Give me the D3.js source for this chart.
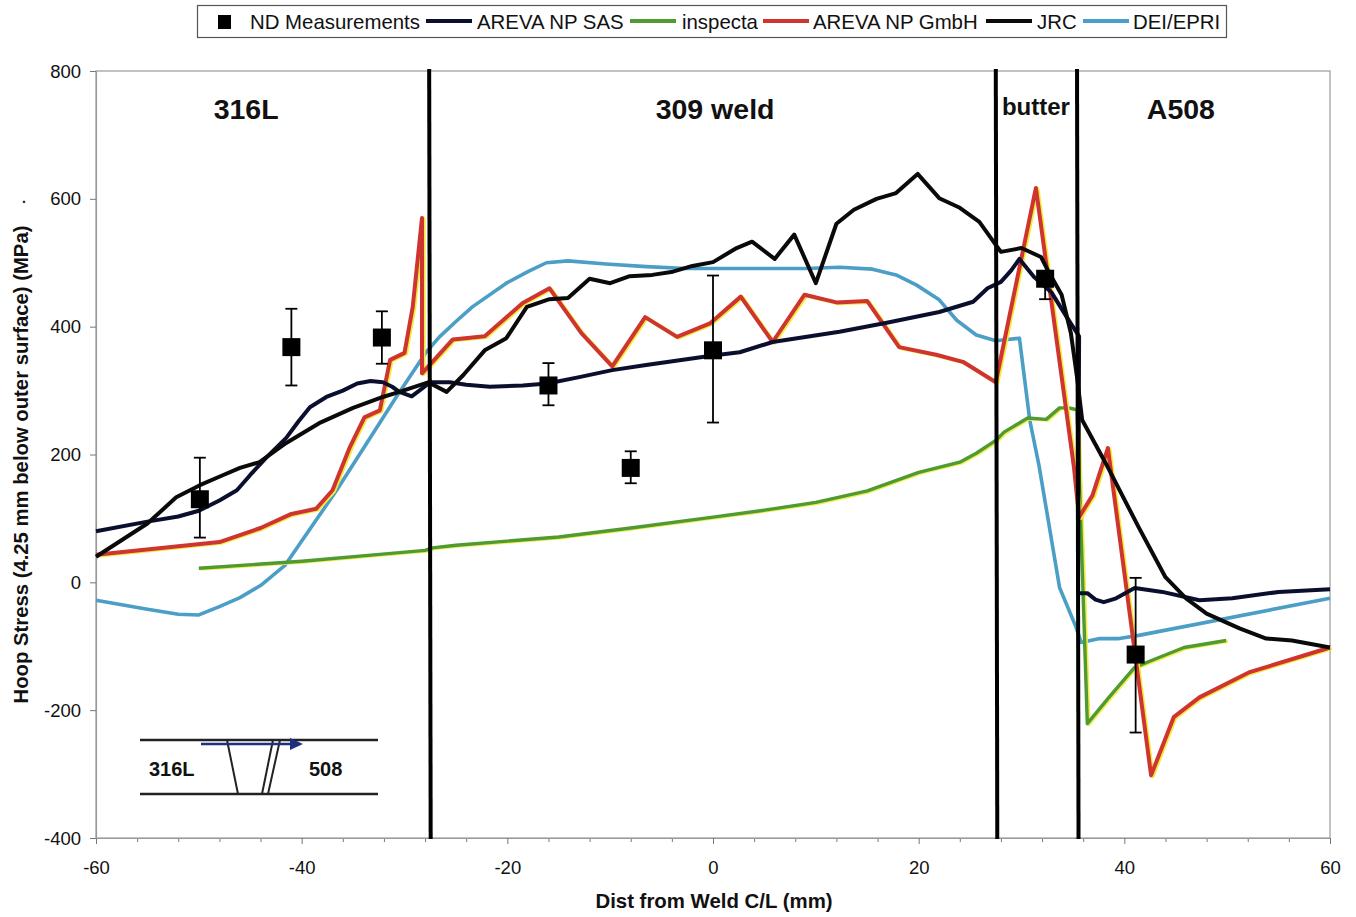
<!DOCTYPE html>
<html><head><meta charset="utf-8">
<script src="https://cdn.jsdelivr.net/npm/d3@7/dist/d3.min.js"></script>
<style>html,body{margin:0;padding:0;background:#fff}svg{display:block}text{font-family:"Liberation Sans",Arial,sans-serif;fill:#111}</style>
</head><body><svg id="c" width="1356" height="917"></svg>
<script>
const sasData=[[-60,80],[-55,95],[-52,103],[-50,112],[-48,128],[-46.3,144],[-45,168],[-43.4,196],[-41.5,226],[-40.3,252],[-39.2,274],[-37.6,290],[-36,300],[-34.6,311],[-33.3,315],[-32.1,313],[-31.2,306],[-30.5,298],[-29.3,291],[-28.4,302],[-27.5,313],[-25.6,313],[-24,309],[-21.7,306],[-18.5,308],[-16.1,311],[-13,321],[-9.8,332],[-6.5,340],[0,355],[2.6,360],[5.8,376],[12.3,392],[16.9,406],[22,423],[25.3,439],[26.7,460],[28,470],[29,488],[29.8,506],[31.2,478],[32.9,454],[34.4,415],[35.6,385],[35.5,-17],[36.4,-17],[37.2,-27],[38,-31],[39.2,-25],[41,-9],[43.7,-15],[47.3,-28],[50.5,-25],[55,-15],[60,-11]];
const inspectaData=[[-50,22],[-40,33],[-33,43],[-28,50],[-27.3,54],[-25,58],[-15,71],[-8,85],[0,102],[5,113],[10,125],[15,143],[20,172],[24,188],[25.6,202],[27.5,222],[28.3,235],[30.6,257],[32.4,255],[33.7,273],[34.6,273],[35.4,270],[36.4,-221],[38.5,-180],[41,-133],[43,-120],[45.8,-102],[49.9,-91]];
const gmbhData=[[-60,43],[-48,63],[-44,85],[-41,107],[-38.6,115],[-37,144],[-35.3,212],[-33.9,258],[-32.4,269],[-31.4,348],[-30,359],[-29.2,431],[-28.3,570],[-28.3,327],[-25.3,380],[-22.2,385],[-18.5,437],[-15.9,460],[-12.8,390],[-9.8,338],[-6.6,415],[-3.5,384],[-0.3,405],[2.7,447],[5.8,376],[8.9,450],[12,438],[15,440],[18.1,368],[21.7,356],[24.3,345],[27.5,313],[31.4,617],[35.1,180],[35.6,102],[36.9,136],[38.4,210],[42.6,-302],[44.8,-211],[47.3,-180],[52.1,-141],[60,-102]];
const jrcData=[[-60,40],[-55,92],[-52.2,133],[-49.9,152],[-47.9,166],[-46,179],[-44.1,188],[-41.5,218],[-38.3,249],[-35,273],[-32.1,290],[-30.5,298],[-27.7,313],[-25.9,298],[-24.3,324],[-22.2,363],[-20.1,382],[-18.1,431],[-15.9,443],[-14.1,445],[-12,475],[-10,468],[-8.1,479],[-5.9,481],[-3.9,486],[-2,495],[0,501],[2.3,523],[3.8,533],[6,506],[7.9,544],[10,468],[12,561],[13.7,583],[15.9,600],[17.8,609],[19.9,639],[22,601],[24,586],[25.9,564],[27.5,528],[28,517],[30,523],[31.9,509],[32.7,484],[33.9,450],[34.8,390],[35.4,321],[35.9,254],[38.2,186],[41.4,86],[44,8],[46,-25],[48,-49],[51.2,-72],[53.8,-88],[56.3,-91],[60,-102]];
const deiData=[[-60,-28],[-55,-42],[-52,-50],[-50,-51],[-48,-38],[-46,-24],[-44,-5],[-41.6,27],[-36.6,144],[-30.8,290],[-27.9,360],[-26.6,384],[-25,408],[-23.4,431],[-20.1,468],[-18,486],[-16.2,500],[-14.1,503],[-10.4,498],[-6.5,494],[-2.6,491],[2.6,491],[9,491],[12.3,493],[15.5,490],[17.8,481],[19.8,465],[22,442],[23.7,410],[25.6,387],[27.5,378],[29.8,382],[30.8,254],[31.7,183],[33.7,-8],[35.3,-70],[35.8,-94],[37.6,-88],[39.5,-88],[41.4,-83],[60,-25]];
const ndX=[-49.9,-41,-32.2,-16,-8,0,32.3,41.1];
const ndY=[130,368,383,308,179,363,475,-113];
const ndLow=[70,308,342,277,155,250,443,-235];
const ndHigh=[195,428,424,343,205,480,485,7];
const xTicks=[-60,-40,-20,0,20,40,60];
const xMinor=[-56,-52,-48,-44,-36,-32,-28,-24,-16,-12,-8,-4,4,8,12,16,24,28,32,36,44,48,52,56];
const yTicks=[-400,-200,0,200,400,600,800];
const boundaries=[-27.6,27.5,35.4];
const regions=[["316L",-45.4],["309 weld",0.2],["butter",31.4],["A508",45.5]];
const legendNames=["AREVA NP SAS","inspecta","AREVA NP GmbH","JRC","DEI/EPRI"];
const legendColors=["#0b0f2e","#4f9a32","#cf3530","#0a0a0a","#4b9ec6"];

const svg=d3.select("#c");
const x=d3.scaleLinear().domain([-60,60]).range([96,1330]);
const y=d3.scaleLinear().domain([-400,800]).range([838,71]);
const line=d3.line().x(d=>x(d[0])).y(d=>y(d[1]));

// frame
svg.append("rect").attr("x",96).attr("y",71).attr("width",1234).attr("height",767).attr("fill","none").attr("stroke","#9a9a9a").attr("stroke-width",1.2);
const gxm=svg.append("g").attr("transform","translate(0,838)").call(d3.axisBottom(x).tickValues(xMinor).tickSize(4).tickSizeOuter(0).tickFormat(""));
const gx=svg.append("g").attr("transform","translate(0,838)").call(d3.axisBottom(x).tickValues(xTicks).tickSize(6).tickSizeOuter(0).tickFormat(d=>String(d)));
const gy=svg.append("g").attr("transform","translate(96,0)").call(d3.axisLeft(y).tickValues(yTicks).tickSize(6).tickSizeOuter(0).tickFormat(d=>String(d)));
[gxm,gx,gy].forEach(g=>{g.selectAll("path").attr("stroke","#9a9a9a").attr("stroke-width",1.2);g.selectAll("line").attr("stroke","#777").attr("stroke-width",1);g.selectAll("text").style("font-size","18.5px").style("font-family",'"Liberation Sans",Arial,sans-serif').attr("fill","#222")});
gx.selectAll("text").attr("y",0).attr("dy","36");
gy.selectAll("text").attr("x",-15).attr("dy","0.33em");
svg.append("text").attr("x",714).attr("y",908).attr("text-anchor","middle").style("font-size","20.4px").style("font-weight","bold").text("Dist from Weld C/L (mm)");
svg.append("text").attr("transform","translate(28,464.5) rotate(-90)").attr("text-anchor","middle").style("font-size","20.3px").style("font-weight","bold").text("Hoop Stress (4.25 mm below outer surface) (MPa)");
svg.append("text").attr("x",24).attr("y",203).attr("text-anchor","middle").style("font-size","14px").style("font-weight","bold").text(".");

// series
function draw(data,color,w,shadow){
  if(shadow) svg.append("path").datum(data).attr("d",line).attr("transform","translate(1.6,0.8)").attr("fill","none").attr("stroke",shadow).attr("stroke-width",w).attr("stroke-linejoin","round");
  svg.append("path").datum(data).attr("d",line).attr("fill","none").attr("stroke",color).attr("stroke-width",w).attr("stroke-linejoin","round");
}
draw(deiData,legendColors[4],3.6);
draw(inspectaData,legendColors[1],3.4,"#f2ee4a");
draw(gmbhData,legendColors[2],4,"#f5ea3a");
draw(sasData,legendColors[0],4);
draw(jrcData,legendColors[3],4);

// boundaries
boundaries.forEach(b=>svg.append("line").attr("x1",x(b)).attr("x2",x(b)+1.5).attr("y1",y(800)-2).attr("y2",y(-400)+1).attr("stroke","#000").attr("stroke-width",4));

// ND
const nd=ndX.map((v,i)=>({x:v,y:ndY[i],lo:ndLow[i],hi:ndHigh[i]}));
const g=svg.append("g");
nd.forEach(d=>{
  g.append("line").attr("x1",x(d.x)).attr("x2",x(d.x)).attr("y1",y(d.lo)).attr("y2",y(d.hi)).attr("stroke","#000").attr("stroke-width",1.8);
  [d.lo,d.hi].forEach(v=>g.append("line").attr("x1",x(d.x)-6).attr("x2",x(d.x)+6).attr("y1",y(v)).attr("y2",y(v)).attr("stroke","#000").attr("stroke-width",1.8));
  g.append("rect").attr("x",x(d.x)-9).attr("y",y(d.y)-9).attr("width",18).attr("height",18).attr("fill","#000");
});

// region labels
regions.forEach((r,i)=>svg.append("text").attr("x",x(r[1])).attr("y",i==2?115:119).attr("text-anchor","middle").style("font-size",i==2?"24px":"28.5px").style("font-weight","bold").text(r[0]));

// legend
const lg=svg.append("g");
lg.append("rect").attr("x",197.5).attr("y",5.5).attr("width",1029).attr("height",32).attr("fill","#fff").attr("stroke","#555").attr("stroke-width",1.2);
lg.append("rect").attr("x",218).attr("y",15).attr("width",13).attr("height",14).attr("fill","#000");
lg.append("text").attr("x",250).attr("y",29).style("font-size","20.4px").text("ND Measurements");
const keyX=[426,630,763,986,1083], txtX=[477,682,813,1037,1133];
legendNames.forEach((n,i)=>{
  lg.append("line").attr("x1",keyX[i]).attr("x2",keyX[i]+46).attr("y1",21).attr("y2",21).attr("stroke",legendColors[i]).attr("stroke-width",4);
  lg.append("text").attr("x",txtX[i]).attr("y",29).style("font-size","20.4px").text(n);
});

// inset
const inset=svg.append("g");
const seg=(a,b,c,d,col,w)=>inset.append("line").attr("x1",a).attr("y1",b).attr("x2",c).attr("y2",d).attr("stroke",col||"#222").attr("stroke-width",w||2);
seg(140,740,378,740,"#222",2.4);seg(140,794,378,794,"#222",2.4);
seg(227,740,238,794);seg(273,740,262,794);seg(280,740,268,794);
seg(201,744,292,744,"#1f2f7f",2.5);
inset.append("path").attr("d","M290,738 L303,744 L290,750 Z").attr("fill","#1f2f7f");
inset.append("text").attr("x",149).attr("y",776).style("font-size","20px").style("font-weight","bold").text("316L");
inset.append("text").attr("x",309).attr("y",776).style("font-size","20px").style("font-weight","bold").text("508");
</script></body></html>
